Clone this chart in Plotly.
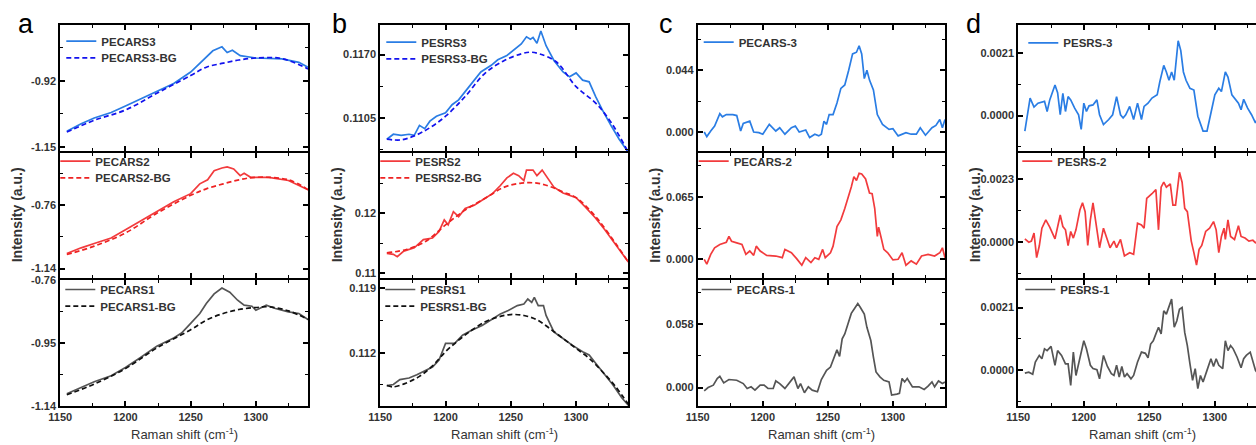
import plotly.graph_objects as go

W, H = 1256, 445

# ---------------- data ----------------
# Panel a : PECARS with background
a3_x = [1155,1166,1176,1189,1200,1211,1224,1237,1250,1259,1267,1274,1278,1282,1288,1300,1320,1333,1340]
a3_y = [-1.095,-1.069,-1.049,-1.030,-1.007,-0.984,-0.954,-0.929,-0.889,-0.849,-0.815,-0.801,-0.821,-0.813,-0.832,-0.840,-0.843,-0.855,-0.872]
a3bg_x = [1155,1176,1200,1224,1250,1262,1275,1287,1300,1320,1340]
a3bg_y = [-1.098,-1.057,-1.021,-0.963,-0.901,-0.872,-0.858,-0.847,-0.840,-0.842,-0.878]

a2_x = [1155,1166,1176,1189,1200,1211,1224,1237,1250,1257,1263,1268,1274,1278,1283,1288,1291,1296,1310,1325,1340]
a2_y = [-1.050,-1.016,-0.990,-0.957,-0.908,-0.859,-0.799,-0.740,-0.691,-0.632,-0.608,-0.553,-0.537,-0.530,-0.543,-0.583,-0.569,-0.593,-0.593,-0.612,-0.667]
a2bg_x = [1155,1176,1200,1224,1250,1262,1275,1287,1300,1325,1340]
a2bg_y = [-1.056,-1.006,-0.927,-0.809,-0.701,-0.662,-0.632,-0.608,-0.593,-0.608,-0.667]

a1_x = [1155,1166,1176,1189,1200,1211,1224,1237,1243,1250,1257,1262,1268,1274,1280,1286,1291,1297,1300,1308,1315,1325,1333,1340]
a1_y = [-1.103,-1.084,-1.067,-1.049,-1.024,-0.995,-0.960,-0.935,-0.920,-0.891,-0.861,-0.831,-0.802,-0.784,-0.797,-0.821,-0.836,-0.839,-0.851,-0.836,-0.846,-0.856,-0.861,-0.879]
a1bg_x = [1155,1176,1200,1224,1250,1262,1275,1287,1300,1310,1325,1340]
a1bg_y = [-1.106,-1.074,-1.027,-0.965,-0.910,-0.881,-0.861,-0.849,-0.843,-0.841,-0.853,-0.879]

# Panel b : PESRS with background
b3_x = [1155,1160,1166,1172,1176,1180,1184,1188,1193,1200,1205,1210,1215,1221,1227,1235,1240,1247,1253,1258,1262,1265,1267,1270,1273,1277,1283,1290,1295,1300,1305,1310,1315,1320,1327,1333,1340]
b3_y = [0.10831,0.10882,0.10871,0.10882,0.10871,0.10973,0.10939,0.11016,0.11067,0.11101,0.11185,0.11235,0.11319,0.11420,0.11521,0.11589,0.11646,0.11690,0.11757,0.11808,0.11882,0.11858,0.11875,0.11815,0.11942,0.11791,0.11639,0.11521,0.11471,0.11511,0.11437,0.11420,0.11269,0.11134,0.10966,0.10831,0.10696]
b3bg_x = [1155,1166,1176,1188,1200,1215,1230,1245,1258,1265,1272,1285,1300,1315,1327,1340]
b3bg_y = [0.10831,0.10824,0.10865,0.10949,0.11067,0.11269,0.11505,0.11639,0.11707,0.11724,0.11707,0.11623,0.11370,0.11202,0.11000,0.10696]

b2_x = [1155,1160,1163,1168,1176,1183,1190,1195,1199,1202,1206,1210,1215,1222,1230,1236,1242,1247,1252,1256,1260,1262,1267,1270,1274,1278,1283,1290,1295,1300,1307,1315,1322,1330,1340]
b2_y = [0.11333,0.11317,0.11279,0.11372,0.11426,0.11563,0.11590,0.11699,0.11891,0.11809,0.12027,0.11945,0.12082,0.12137,0.12246,0.12328,0.12464,0.12590,0.12667,0.12628,0.12546,0.12721,0.12721,0.12628,0.12721,0.12601,0.12437,0.12339,0.12301,0.12262,0.12109,0.11918,0.11727,0.11481,0.11191]
b2bg_x = [1155,1170,1185,1200,1215,1230,1245,1258,1270,1280,1290,1300,1315,1330,1340]
b2bg_y = [0.11344,0.11399,0.11536,0.11809,0.12055,0.12246,0.12437,0.12503,0.12503,0.12448,0.12355,0.12262,0.11945,0.11508,0.11191]

b1_x = [1155,1160,1165,1172,1178,1185,1190,1195,1200,1207,1213,1220,1228,1235,1242,1248,1255,1260,1263,1266,1268,1271,1275,1277,1283,1290,1297,1305,1310,1315,1322,1328,1335,1340]
b1_y = [0.10843,0.10854,0.10907,0.10925,0.10961,0.11014,0.11043,0.11121,0.11300,0.11300,0.11389,0.11443,0.11496,0.11557,0.11621,0.11657,0.11711,0.11729,0.11782,0.11746,0.11800,0.11711,0.11711,0.11604,0.11425,0.11354,0.11282,0.11211,0.11175,0.11086,0.10961,0.10854,0.10711,0.10629]
b1bg_x = [1155,1160,1170,1180,1190,1200,1210,1220,1230,1240,1250,1260,1270,1280,1290,1300,1310,1320,1330,1340]
b1bg_y = [0.10843,0.10829,0.10871,0.10943,0.11057,0.11211,0.11336,0.11443,0.11532,0.11586,0.11614,0.11604,0.11557,0.11461,0.11354,0.11246,0.11139,0.10996,0.10836,0.10639]

# Panel c : background-subtracted PECARS
c3_x = [1155,1157,1160,1163,1167,1169,1172,1177,1180,1183,1185,1190,1193,1197,1200,1205,1210,1213,1217,1222,1225,1228,1233,1236,1240,1243,1245,1247,1249,1251,1254,1257,1260,1263,1266,1269,1272,1274,1276,1278,1280,1282,1285,1288,1292,1297,1300,1304,1310,1314,1318,1321,1325,1330,1333,1336,1338,1340]
c3_y = [0.0,-0.0033,0.0007,0.0042,0.0131,0.0108,0.0124,0.0124,0.0117,0.0007,0.0061,0.0077,0.0,-0.0005,-0.0016,0.0054,0.0007,0.0030,-0.0016,0.0030,0.0042,0.0,0.0014,-0.0040,-0.0016,-0.0028,-0.0016,0.0077,0.0054,0.0124,0.0124,0.0206,0.0311,0.0335,0.0440,0.0557,0.0569,0.0615,0.0557,0.0381,0.0440,0.0370,0.0300,0.0124,0.0054,0.0019,0.0023,-0.0028,-0.0005,-0.0016,-0.0016,0.0030,-0.0023,0.0030,0.0047,0.0089,0.0030,0.0089]

c2_x = [1155,1157,1160,1163,1167,1172,1174,1176,1180,1184,1187,1190,1193,1195,1198,1203,1210,1215,1217,1222,1226,1230,1233,1237,1240,1243,1246,1248,1252,1254,1257,1260,1263,1266,1268,1270,1272,1274,1276,1279,1282,1284,1286,1288,1289,1291,1293,1296,1300,1304,1307,1310,1314,1318,1322,1327,1332,1336,1338,1340]
c2_y = [0.0,-0.0051,0.0051,0.0120,0.0154,0.0178,0.0239,0.0188,0.0171,0.0154,0.0051,0.0086,0.0041,0.0137,0.0086,0.0041,0.0034,0.0017,0.0103,0.0068,0.0007,-0.0062,0.0017,-0.0034,0.0017,0.0,0.0103,0.0017,0.0068,0.0137,0.0342,0.0411,0.0530,0.0650,0.0753,0.0862,0.0821,0.0896,0.0889,0.0838,0.0691,0.0684,0.0530,0.0239,0.0335,0.0222,0.0103,0.0068,-0.0007,0.0,0.0068,-0.0062,-0.0017,-0.0051,0.0034,0.0051,0.0034,0.0068,0.0120,0.0017]

c1_x = [1155,1158,1162,1165,1167,1170,1174,1180,1185,1188,1191,1194,1198,1201,1204,1208,1210,1213,1217,1221,1224,1227,1229,1232,1235,1238,1242,1245,1249,1252,1255,1257,1259,1261,1263,1266,1268,1271,1273,1275,1278,1280,1283,1285,1287,1290,1293,1297,1299,1303,1305,1307,1309,1311,1315,1320,1324,1327,1330,1332,1335,1338,1340]
c1_y = [-0.0030,0.0,0.0021,0.0082,0.0103,0.0042,0.0073,0.0066,0.0036,-0.0009,0.0006,-0.0024,0.0021,0.0021,-0.0009,-0.0009,0.0060,0.0036,-0.0009,0.0051,0.0097,-0.0009,0.0036,-0.0048,0.0006,-0.0024,-0.0039,0.0073,0.0157,0.0187,0.0278,0.0344,0.0284,0.0444,0.0489,0.0595,0.0677,0.0731,0.0767,0.0731,0.0671,0.0550,0.0429,0.0278,0.0142,0.0097,0.0066,0.0051,-0.0069,-0.0060,-0.0054,0.0082,0.0051,0.0082,0.0006,0.0006,-0.0018,0.0012,0.0051,0.0006,0.0060,0.0036,0.0051]

# Panel d : background-subtracted PESRS
d3_x = [1155,1157,1159,1162,1165,1170,1172,1174,1178,1180,1182,1184,1186,1188,1190,1193,1196,1198,1200,1202,1204,1207,1210,1212,1215,1219,1222,1225,1228,1230,1232,1235,1238,1241,1244,1246,1249,1252,1256,1258,1261,1263,1265,1267,1269,1271,1272,1274,1276,1278,1281,1284,1287,1291,1294,1297,1300,1303,1305,1308,1310,1313,1316,1318,1320,1322,1325,1328,1331,1335,1340]
d3_y = [-0.00052,0.00003,0.00059,0.00029,0.00042,0.00048,0.00014,0.00053,0.00103,0.00077,0.00003,0.00075,0.00014,0.00064,0.00053,0.00025,0.00003,-0.00046,0.00042,0.00014,0.00033,0.00036,0.00053,0.00003,-0.00030,-0.00013,0.00003,0.00064,0.00003,-0.00008,0.00003,0.00031,-0.00013,0.00042,-0.00013,0.00031,0.00042,0.00059,0.00070,0.00114,0.00169,0.00147,0.00119,0.00147,0.00119,0.00208,0.00252,0.00219,0.00147,0.00119,0.00092,0.00086,-0.00002,-0.00052,-0.00052,0.00009,0.00070,0.00092,0.00081,0.00147,0.00130,0.00070,0.00053,0.00042,0.00020,0.00055,0.00025,0.00003,-0.00024,0.00010,0.00020]

d2_x = [1155,1158,1160,1162,1164,1166,1168,1171,1174,1178,1182,1184,1186,1188,1190,1192,1194,1197,1199,1201,1203,1205,1207,1209,1212,1215,1218,1220,1223,1225,1228,1231,1235,1238,1241,1244,1246,1248,1252,1255,1257,1259,1261,1263,1266,1268,1270,1272,1273,1275,1277,1279,1282,1284,1286,1288,1290,1293,1296,1299,1301,1303,1305,1307,1308,1310,1312,1315,1318,1320,1323,1326,1329,1331,1335,1340]
d2_y = [0.00012,0.0,0.00004,0.00033,-0.00056,-0.00014,0.00051,0.00081,0.00055,0.00012,0.00099,0.00057,0.00045,-0.00012,0.00039,0.00015,0.00045,0.00117,0.00143,0.00111,-0.00012,0.00081,0.00143,0.00075,-0.00020,0.00051,0.00010,-0.00020,0.00004,-0.00020,0.00010,-0.00050,-0.00038,-0.00044,0.00069,0.00063,0.00051,0.00159,0.00176,0.00191,0.00045,0.00200,0.00218,0.00200,0.00212,0.00135,0.00135,0.00212,0.00254,0.00218,0.00123,0.00111,0.00004,-0.00038,-0.00083,-0.00026,-0.00012,0.00039,0.00051,0.00075,0.00045,-0.00038,0.00021,0.00051,0.00010,0.00081,0.00021,0.00010,0.00060,0.00021,0.00015,0.00004,0.00007,-0.00002,0.00005,0.00010]

d1_x = [1155,1158,1161,1163,1166,1168,1170,1172,1175,1178,1180,1183,1186,1188,1190,1192,1194,1197,1200,1202,1205,1207,1210,1212,1215,1218,1221,1223,1225,1227,1229,1231,1233,1236,1238,1241,1244,1247,1249,1251,1253,1255,1257,1259,1261,1263,1265,1267,1269,1271,1273,1275,1277,1279,1281,1283,1285,1287,1289,1291,1294,1297,1299,1301,1303,1306,1308,1310,1312,1314,1317,1320,1322,1324,1327,1329,1331,1333,1336,1340]
d1_y = [-0.00009,-0.00006,-0.00013,0.00028,0.00050,0.00039,0.00072,0.00066,0.00080,0.00017,0.00066,0.00050,0.00022,0.00022,-0.00050,0.00061,-0.00017,0.00044,0.00099,0.00072,0.00017,0.00006,0.00002,-0.00028,0.00050,0.00013,-0.00011,-0.00017,0.00017,-0.00022,0.00013,-0.00022,-0.00011,-0.00028,-0.00017,0.00028,0.00061,0.00057,0.00042,0.00088,0.00099,0.00122,0.00144,0.00122,0.00199,0.00188,0.00210,0.00238,0.00144,0.00166,0.00204,0.00210,0.00127,0.00083,0.00022,-0.00033,0.00006,-0.00061,-0.00017,-0.00039,0.0,0.00039,0.00013,0.00039,0.00017,0.00006,0.00099,0.00066,0.00083,0.00072,0.00044,0.00009,0.00039,0.00050,0.00061,0.00028,0.0,-0.00011,0.00005,0.00010]

# axis tick labels per subplot (major ticks)
a3_ticks = [-1.15, -0.92];        a3_text = ["-1.15", "-0.92"]
a2_ticks = [-1.14, -0.76];        a2_text = ["-1.14", "-0.76"]
a1_ticks = [-1.14, -0.95, -0.76]; a1_text = ["-1.14", "-0.95", "-0.76"]
b3_ticks = [0.1105, 0.1170];      b3_text = ["0.1105", "0.1170"]
b2_ticks = [0.11, 0.12];          b2_text = ["0.11", "0.12"]
b1_ticks = [0.112, 0.119];        b1_text = ["0.112", "0.119"]
c3_ticks = [0.0, 0.044];          c3_text = ["0.000", "0.044"]
c2_ticks = [0.0, 0.065];          c2_text = ["0.000", "0.065"]
c1_ticks = [0.0, 0.058];          c1_text = ["0.000", "0.058"]
d3_ticks = [0.0, 0.0021];         d3_text = ["0.0000", "0.0021"]
d2_ticks = [0.0, 0.0023];         d2_text = ["0.0000", "0.0023"]
d1_ticks = [0.0, 0.0021];         d1_text = ["0.0000", "0.0021"]
x_ticks = [1150, 1200, 1250, 1300]

# ---------------- layout geometry ----------------
def px(x):
    return x / W

def py(y):
    return 1 - y / H

# frame line centres (px)
col_left = [59.3, 379.3, 696.7, 1017.3]
col_right = [309.0, 629.3, 946.0, 1258.0]
row_top = [24, 152, 279]
row_bot = [152, 279, 407]
x_ranges = [[1150, 1340], [1150, 1340], [1150, 1340], [1150, 1331.4]]

y_ranges = [
    [[-1.164, -0.725], [-1.197, -0.447], [-1.14, -0.76]],
    [[0.10710, 0.12003], [0.10924, 0.13005], [0.10621, 0.11989]],
    [[-0.01357, 0.0763], [-0.0195, 0.1108], [-0.0169, 0.0982]],
    [[-0.00119, 0.00305], [-0.00130, 0.00324], [-0.00119, 0.00302]],
]
yticks = [
    [(a3_ticks, a3_text), (a2_ticks, a2_text), (a1_ticks, a1_text)],
    [(b3_ticks, b3_text), (b2_ticks, b2_text), (b1_ticks, b1_text)],
    [(c3_ticks, c3_text), (c2_ticks, c2_text), (c1_ticks, c1_text)],
    [(d3_ticks, d3_text), (d2_ticks, d2_text), (d1_ticks, d1_text)],
]

BLUE, BLUE_D = "#2a7de4", "#1212ee"
RED, RED_D = "#f23b3d", "#ee2222"
GRAY, BLACK_D = "#555555", "#111111"

series = [
    [  # panel a
        [("PECARS3", a3_x, a3_y, BLUE, "solid"), ("PECARS3-BG", a3bg_x, a3bg_y, BLUE_D, "dash")],
        [("PECARS2", a2_x, a2_y, RED, "solid"), ("PECARS2-BG", a2bg_x, a2bg_y, RED_D, "dash")],
        [("PECARS1", a1_x, a1_y, GRAY, "solid"), ("PECARS1-BG", a1bg_x, a1bg_y, BLACK_D, "dash")],
    ],
    [  # panel b
        [("PESRS3", b3_x, b3_y, BLUE, "solid"), ("PESRS3-BG", b3bg_x, b3bg_y, BLUE_D, "dash")],
        [("PESRS2", b2_x, b2_y, RED, "solid"), ("PESRS2-BG", b2bg_x, b2bg_y, RED_D, "dash")],
        [("PESRS1", b1_x, b1_y, GRAY, "solid"), ("PESRS1-BG", b1bg_x, b1bg_y, BLACK_D, "dash")],
    ],
    [  # panel c
        [("PECARS-3", c3_x, c3_y, BLUE, "solid")],
        [("PECARS-2", c2_x, c2_y, RED, "solid")],
        [("PECARS-1", c1_x, c1_y, GRAY, "solid")],
    ],
    [  # panel d
        [("PESRS-3", d3_x, d3_y, BLUE, "solid")],
        [("PESRS-2", d2_x, d2_y, RED, "solid")],
        [("PESRS-1", d1_x, d1_y, GRAY, "solid")],
    ],
]

# legend sample start (px right of frame) and first-row centre (px below subplot top)
leg_dx = [[7, 1, 6], [7, 1, 6], [7, 2, 5], [11, 5, 8]]
leg_dy = [[17.7, 9.7, 11], [18.7, 9.7, 11], [18.7, 9.7, 11], [19.3, 9.7, 11]]
ROW_STEP = 16.7

TICKFONT = dict(family="Arial", size=11, color="#333333", weight="bold")
fig = go.Figure()
layout = dict(
    width=W, height=H,
    margin=dict(l=0, r=0, t=0, b=0, pad=0, autoexpand=False),
    paper_bgcolor="white", plot_bgcolor="white",
    showlegend=True,
)

idx = 0
leg_n = 0
for c in range(4):
    for r in range(3):
        idx += 1
        xk = "x" if idx == 1 else f"x{idx}"
        yk = "y" if idx == 1 else f"y{idx}"
        for j, (name, xs, ys, color, dash) in enumerate(series[c][r]):
            leg_n += 1
            lk = "legend" if leg_n == 1 else f"legend{leg_n}"
            fig.add_trace(go.Scatter(
                x=xs, y=ys, mode="lines", name=name,
                line=dict(color=color, width=1.7,
                          dash=("5px,3px" if dash == "dash" else "solid"),
                          shape=("spline" if dash == "dash" else "linear")),
                xaxis=xk, yaxis=yk, legend=lk,
            ))
            centre = row_top[r] + leg_dy[c][r] + j * ROW_STEP
            layout[lk] = dict(
                x=px(col_left[c] + leg_dx[c][r] - 5), y=py(centre - 15),
                xanchor="left", yanchor="top",
                bgcolor="rgba(0,0,0,0)", borderwidth=0,
                font=dict(family="Arial", size=11.5, color="#333333", weight="bold"),
                itemwidth=30,
            )
        tv, tt = yticks[c][r]
        dt = tv[1] - tv[0]
        layout["xaxis" if idx == 1 else f"xaxis{idx}"] = dict(
            domain=[px(col_left[c] + 1), min(1.0, px(col_right[c] - 1))],
            anchor=yk, range=x_ranges[c],
            showline=True, linecolor="black", linewidth=2, mirror="ticks",
            ticks="inside", ticklen=5, tickwidth=1.5, tickcolor="black",
            tickmode="array", tickvals=x_ticks,
            ticktext=[str(v) for v in x_ticks],
            showticklabels=(r == 2), tickfont=TICKFONT,
            minor=dict(ticks="inside", ticklen=3, tickwidth=1.2, tickcolor="black",
                       tick0=1150, dtick=25),
            showgrid=False, zeroline=False, automargin=False,
        )
        layout["yaxis" if idx == 1 else f"yaxis{idx}"] = dict(
            domain=[py(row_bot[r] - 1), py(row_top[r] + 1)],
            anchor=xk, range=y_ranges[c][r],
            showline=True, linecolor="black", linewidth=2,
            mirror=("ticks" if c < 3 else False),
            ticks="inside", ticklen=5, tickwidth=1.5, tickcolor="black",
            tickmode="array", tickvals=tv, ticktext=tt, tickfont=TICKFONT,
            minor=dict(ticks="inside", ticklen=3, tickwidth=1.2, tickcolor="black",
                       tick0=tv[0], dtick=dt / 2),
            showgrid=False, zeroline=False, automargin=False,
        )

annotations = []
letters = ["a", "b", "c", "d"]
letter_x = [25.5, 339, 666, 973]
for c in range(4):
    annotations.append(dict(
        x=px(letter_x[c]), y=py(24), xref="paper", yref="paper",
        text=letters[c], showarrow=False, xanchor="center", yanchor="middle",
        font=dict(family="Arial", size=27, color="black"),
    ))
    annotations.append(dict(
        x=px(col_left[c] - 42), y=py(215), xref="paper", yref="paper",
        text="Intensity (a.u.)", textangle=-90, showarrow=False,
        xanchor="center", yanchor="middle",
        font=dict(family="Arial", size=14, color="#333333", weight="bold"),
    ))
    annotations.append(dict(
        x=px(col_left[c] + 125), y=py(434), xref="paper", yref="paper",
        text="Raman shift (cm<sup>-1</sup>)", showarrow=False,
        xanchor="center", yanchor="middle",
        font=dict(family="Arial", size=13, color="#333333"),
    ))
layout["annotations"] = annotations
fig.update_layout(**layout)
fig.write_html(
    "out.html",
    config={"displayModeBar": False},
    post_script="document.body.style.margin='0';document.body.style.padding='0';"
                "document.documentElement.style.overflow='hidden';",
)
